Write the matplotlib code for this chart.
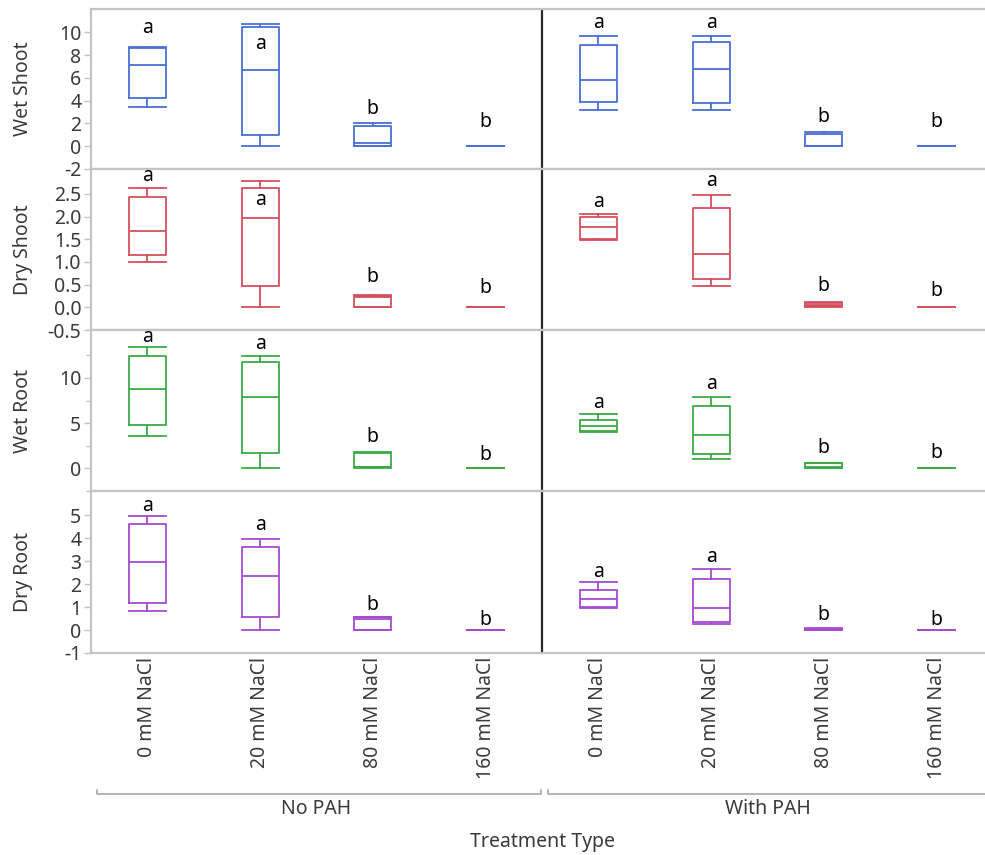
import matplotlib.pyplot as plt
from matplotlib import transforms
from matplotlib.lines import Line2D

plt.rcParams['font.family'] = ['Noto Sans', 'DejaVu Sans']
plt.rcParams['axes.unicode_minus'] = False

NACL = ['0 mM NaCl', '20 mM NaCl', '80 mM NaCl', '160 mM NaCl']
PAH_GROUPS = ['No PAH', 'With PAH']

# five-number summaries per group: (whisker low, q1, median, q3, whisker high)
# first four are No PAH, last four are With PAH
WET_SHOOT = [(3.45, 4.2, 7.1, 8.65, 8.7), (0.0, 0.95, 6.7, 10.5, 10.75),
             (0.0, 0.0, 0.3, 1.75, 2.0), (0.0, 0.0, 0.0, 0.0, 0.0),
             (3.15, 3.9, 5.85, 8.85, 9.7), (3.15, 3.8, 6.8, 9.15, 9.7),
             (0.0, 0.0, 0.02, 1.05, 1.25), (0.0, 0.0, 0.0, 0.0, 0.0)]
DRY_SHOOT = [(1.01, 1.16, 1.69, 2.43, 2.63), (0.0, 0.48, 1.97, 2.63, 2.79),
             (0.0, 0.0, 0.23, 0.26, 0.28), (0.0, 0.0, 0.0, 0.0, 0.0),
             (1.48, 1.5, 1.77, 2.0, 2.05), (0.48, 0.63, 1.17, 2.19, 2.47),
             (0.0, 0.02, 0.05, 0.1, 0.12), (0.0, 0.0, 0.0, 0.0, 0.0)]
WET_ROOT = [(3.57, 4.78, 8.8, 12.4, 13.4), (0.0, 1.65, 7.87, 11.76, 12.4),
            (0.0, 0.1, 0.2, 1.75, 1.8), (0.0, 0.0, 0.0, 0.0, 0.0),
            (4.05, 4.15, 4.65, 5.4, 6.0), (0.99, 1.62, 3.64, 6.88, 7.9),
            (0.0, 0.0, 0.1, 0.6, 0.62), (0.0, 0.0, 0.0, 0.0, 0.0)]
DRY_ROOT = [(0.81, 1.18, 2.96, 4.63, 4.96), (0.0, 0.56, 2.37, 3.62, 3.95),
            (0.0, 0.0, 0.5, 0.55, 0.57), (0.0, 0.0, 0.0, 0.0, 0.0),
            (0.95, 1.0, 1.33, 1.73, 2.07), (0.25, 0.37, 0.96, 2.22, 2.66),
            (0.0, 0.01, 0.03, 0.06, 0.07), (0.0, 0.0, 0.0, 0.0, 0.0)]

# significance letters and the value they sit at in each panel
LETTERS = ['a', 'a', 'b', 'b', 'a', 'a', 'b', 'b']
WET_SHOOT_LETTER_Y = [10.4, 9.0, 3.3, 2.1, 10.8, 10.8, 2.57, 2.1]
DRY_SHOOT_LETTER_Y = [2.89, 2.37, 0.67, 0.43, 2.32, 2.78, 0.46, 0.35]
WET_ROOT_LETTER_Y = [14.5, 13.8, 3.47, 1.5, 7.24, 9.28, 2.3, 1.69]
DRY_ROOT_LETTER_Y = [5.41, 4.59, 1.11, 0.44, 2.52, 3.16, 0.67, 0.44]

panels = [
    ('Wet Shoot', WET_SHOOT, WET_SHOOT_LETTER_Y, '#4a6fd6', (-2, 12.05), list(range(-2, 11, 2)), None, '{:.0f}'),
    ('Dry Shoot', DRY_SHOOT, DRY_SHOOT_LETTER_Y, '#d6505f', (-0.5, 3.05), [-0.5, 0, 0.5, 1, 1.5, 2, 2.5], None, '{:.1f}'),
    ('Wet Root', WET_ROOT, WET_ROOT_LETTER_Y, '#3caa46', (-2.5, 15.3), [0, 5, 10], [-2.5, 2.5, 7.5, 12.5], '{:.0f}'),
    ('Dry Root', DRY_ROOT, DRY_ROOT_LETTER_Y, '#a64bd2', (-1, 6.05), list(range(-1, 6)), None, '{:.0f}'),
]

W, H = 985, 855
LEFT_PX, RIGHT_PX = 91, 993
ROW_EDGES_PX = [9, 169, 330, 491, 653]
TEXT = '#3a3a3a'
FRAME = '#c4c4c4'
FS = 14

fig = plt.figure(figsize=(W / 100, H / 100), dpi=100)
positions = list(range(1, 9))

axes = []
for i, (name, stats, letter_y, color, ylim, ticks, minor, fmt) in enumerate(panels):
    top, bottom = ROW_EDGES_PX[i], ROW_EDGES_PX[i + 1]
    ax = fig.add_axes([LEFT_PX / W, 1 - bottom / H, (RIGHT_PX - LEFT_PX) / W, (bottom - top) / H])
    axes.append(ax)

    bxp_stats = [dict(whislo=s[0], q1=s[1], med=s[2], q3=s[3], whishi=s[4], fliers=[]) for s in stats]
    line = dict(color=color, linewidth=1.3)
    ax.bxp(bxp_stats, positions=positions, widths=0.33, capwidths=0.33,
           showfliers=False, boxprops=line, whiskerprops=line,
           capprops=line, medianprops=line, manage_ticks=False)

    for x, letter, y in zip(positions, LETTERS, letter_y):
        ax.text(x, y, letter, ha='center', va='center', fontsize=FS, color='black')

    ax.axvline(4.5, color='#2b2b2b', linewidth=1.6)

    ax.set_xlim(0.5, 8.5)
    ax.set_ylim(*ylim)
    ax.set_yticks(ticks)
    ax.set_yticklabels([fmt.format(t) for t in ticks])
    if minor:
        ax.set_yticks(minor, minor=True)
        ax.tick_params(axis='y', which='minor', length=3.5, color=FRAME, width=1)
    ax.tick_params(axis='y', which='major', length=5, color=FRAME, width=1,
                   labelsize=FS, labelcolor=TEXT, pad=2)

    for spine in ax.spines.values():
        spine.set_color(FRAME)
        spine.set_linewidth(1.6)

    ax.set_ylabel(name, fontsize=FS, color=TEXT)
    ax.yaxis.set_label_coords(-0.064, 0.5)

    if i < len(panels) - 1:
        ax.set_xticks([])
    else:
        ax.set_xticks(positions)
        ax.set_xticklabels(NACL * 2, rotation=90, fontsize=FS, color=TEXT)
        ax.tick_params(axis='x', length=0, pad=3)

# group brackets and labels under the category axis
bottom_ax = axes[-1]
trans = transforms.blended_transform_factory(bottom_ax.transData, fig.transFigure)
bracket_y = 1 - 794 / H
hook = 4 / H
for (x0, x1), label, xc in zip([(0.553, 4.49), (4.55, 8.6)], PAH_GROUPS, [2.5, 6.5]):
    fig.add_artist(Line2D([x0, x0, x1, x1], [bracket_y + hook, bracket_y, bracket_y, bracket_y + hook],
                          transform=trans, color='#a8a8a8', linewidth=1.2))
    fig.text(xc, 1 - 809 / H, label, transform=trans, ha='center', va='center',
             fontsize=FS, color=TEXT)

fig.text(4.5, 1 - 842 / H, 'Treatment Type', transform=trans, ha='center', va='center',
         fontsize=FS, color=TEXT)

fig.savefig('out.png', dpi=100, facecolor='white')
